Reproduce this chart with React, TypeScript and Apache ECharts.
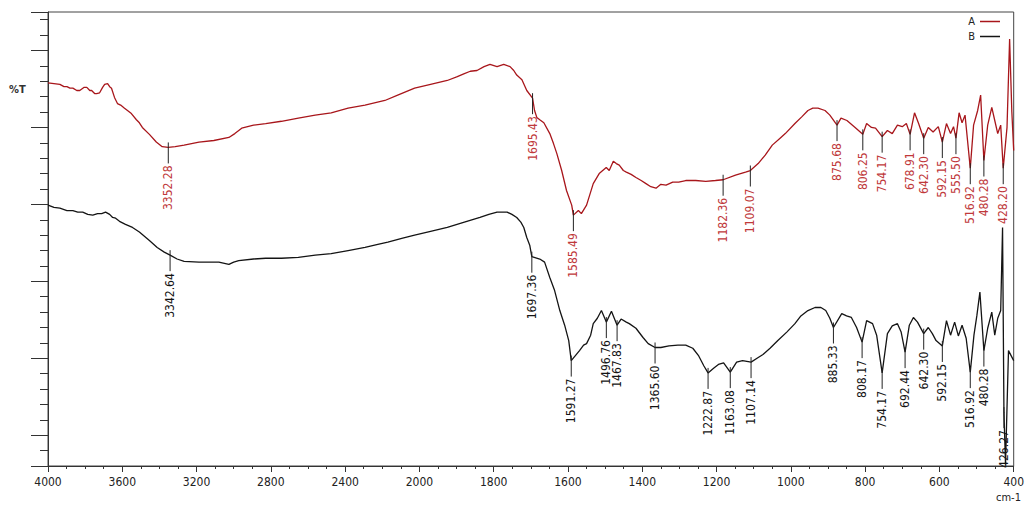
import React, { useEffect, useRef } from "react";
import * as echarts from "echarts";

// x-axis tick labels (cm-1); scale is expanded 2x below 2000 cm-1
const xTickLabels = [4000, 3600, 3200, 2800, 2400, 2000, 1800, 1600, 1400, 1200, 1000, 800, 600, 400];

// Spectrum A (red)
const wnA = [4000, 3968, 3936, 3914, 3898, 3882, 3866, 3845, 3829, 3807, 3791, 3775, 3765, 3749, 3738, 3722, 3706, 3695, 3679, 3668, 3658, 3642, 3626, 3609, 3588, 3572, 3551, 3524, 3508, 3492, 3454, 3417, 3385, 3352.28, 3315, 3267, 3187, 3107, 3026, 2994, 2957, 2893, 2828, 2743, 2652, 2561, 2475, 2384, 2293, 2186, 2117, 2026, 1970, 1925, 1898, 1879, 1863, 1845, 1826, 1810, 1791, 1773, 1756, 1746, 1738, 1724, 1711, 1695.43, 1690, 1684, 1676, 1665, 1649, 1639, 1630, 1617, 1604, 1590, 1585.49, 1572, 1564, 1550, 1532, 1516, 1497, 1489, 1478, 1470, 1462, 1451, 1443, 1430, 1417, 1403, 1390, 1377, 1363, 1350, 1336, 1318, 1302, 1283, 1256, 1229, 1203, 1182.36, 1149, 1122, 1109.07, 1088, 1069, 1050, 1029, 1015, 989, 970, 954, 941, 927, 908, 895, 875.68, 865, 849, 827, 806.25, 796, 783, 772, 754.17, 740, 727, 713, 700, 689, 678.91, 667, 656, 642.3, 630, 617, 603, 592.15, 581, 570, 562, 555.5, 547, 539, 531, 516.92, 508, 497, 489, 480.28, 470, 459, 451, 443, 435, 428.2, 418, 411, 405, 400];
const tA = [45.8, 45.7, 45.6, 45.3, 45.3, 45.1, 45.1, 44.8, 44.8, 45.2, 45.2, 44.8, 44.8, 44.4, 44.4, 44.5, 45.2, 45.6, 45.7, 45.3, 45.1, 43.9, 43.1, 42.9, 42.5, 42.2, 41.8, 41.0, 40.6, 40.0, 39.1, 38.1, 37.5, 37.4, 37.5, 37.7, 38.1, 38.3, 38.7, 39.2, 39.9, 40.3, 40.5, 40.8, 41.2, 41.6, 41.9, 42.5, 42.9, 43.5, 44.2, 45.1, 45.6, 46.1, 46.6, 47.0, 47.3, 47.4, 47.9, 48.2, 47.9, 48.2, 47.9, 47.4, 46.8, 46.2, 44.8, 43.8, 42.2, 41.3, 41.0, 40.6, 39.2, 37.9, 36.6, 34.4, 31.8, 29.9, 28.6, 29.2, 28.8, 29.9, 32.7, 34.0, 34.8, 34.4, 35.6, 35.3, 35.1, 34.4, 34.2, 33.9, 33.5, 33.1, 32.7, 32.3, 32.1, 32.6, 32.5, 32.9, 32.9, 33.1, 33.1, 33.0, 33.1, 33.2, 33.8, 34.2, 34.4, 35.3, 36.4, 37.7, 38.6, 39.2, 40.5, 41.4, 42.2, 42.5, 42.5, 42.2, 41.6, 40.3, 41.2, 40.9, 40.0, 39.1, 40.5, 40.0, 39.9, 38.8, 39.6, 39.2, 40.3, 40.1, 40.5, 39.1, 41.9, 40.5, 38.6, 40.0, 39.4, 40.1, 38.1, 40.5, 39.2, 40.1, 38.6, 41.9, 40.6, 41.6, 34.7, 40.3, 42.2, 44.2, 35.7, 40.3, 42.6, 40.9, 39.2, 40.3, 34.7, 40.0, 51.5, 42.0, 37.0];

// Spectrum B (black)
const wnB = [4000, 3968, 3936, 3898, 3866, 3840, 3813, 3786, 3759, 3733, 3711, 3690, 3668, 3652, 3636, 3615, 3583, 3545, 3508, 3454, 3412, 3374, 3342.64, 3305, 3267, 3187, 3133, 3080, 3026, 3000, 2973, 2893, 2828, 2743, 2652, 2561, 2475, 2384, 2293, 2224, 2170, 2090, 2026, 1970, 1925, 1879, 1837, 1813, 1791, 1778, 1764, 1751, 1738, 1727, 1719, 1711, 1703, 1697.36, 1676, 1663, 1649, 1636, 1622, 1609, 1598, 1591.27, 1569, 1558, 1550, 1539, 1532, 1521, 1510, 1496.76, 1483, 1467.83, 1457, 1443, 1435, 1417, 1398, 1384, 1365.6, 1350, 1328, 1304, 1283, 1264, 1248, 1234, 1222.87, 1208, 1195, 1181, 1163.08, 1146, 1130, 1107.14, 1091, 1075, 1056, 1035, 1011, 989, 973, 954, 935, 919, 906, 895, 885.33, 863, 850, 837, 823, 808.17, 796, 780, 769, 754.17, 740, 727, 713, 703, 692.44, 681, 670, 659, 642.3, 630, 619, 609, 592.15, 581, 570, 559, 549, 539, 528, 516.92, 507, 499, 491, 480.28, 470, 459, 451, 443, 435, 430, 426.27, 422, 414, 400];
const tB = [29.9, 29.6, 29.5, 29.2, 29.2, 29.0, 29.0, 28.7, 28.6, 28.8, 28.8, 29.0, 28.7, 28.3, 28.2, 27.8, 27.4, 27.0, 26.4, 25.3, 24.4, 23.8, 23.4, 22.9, 22.6, 22.5, 22.5, 22.5, 22.2, 22.5, 22.7, 22.9, 23.0, 23.0, 23.1, 23.4, 23.6, 24.0, 24.4, 24.8, 25.1, 25.6, 26.0, 26.5, 27.0, 27.7, 28.3, 28.7, 29.0, 29.0, 29.0, 28.7, 28.3, 27.7, 27.0, 25.7, 24.7, 23.2, 22.9, 22.5, 20.5, 18.8, 16.2, 14.3, 12.3, 9.7, 11.0, 11.7, 11.9, 13.0, 14.5, 15.2, 16.2, 14.7, 16.1, 14.3, 15.1, 14.7, 14.5, 13.9, 12.7, 11.9, 11.4, 11.4, 11.6, 11.7, 11.7, 11.3, 10.3, 9.0, 8.1, 8.7, 9.2, 9.4, 8.2, 9.5, 9.7, 9.5, 10.0, 10.5, 11.3, 12.3, 13.4, 14.5, 15.5, 16.2, 16.6, 16.6, 16.2, 15.2, 14.0, 15.8, 15.5, 15.3, 14.0, 12.1, 14.9, 14.5, 13.0, 8.1, 13.2, 14.2, 14.5, 13.4, 10.8, 14.3, 15.3, 14.7, 13.2, 14.0, 13.2, 12.3, 11.6, 14.9, 13.0, 14.7, 12.9, 14.3, 12.6, 8.2, 13.0, 15.6, 18.6, 11.0, 13.9, 16.0, 13.0, 15.2, 16.2, 27.0, 3.0, -3.8, 11.0, 9.7];

// Labelled peaks (cm-1)
const peaksA = [3352.28, 1695.43, 1585.49, 1182.36, 1109.07, 875.68, 806.25, 754.17, 678.91, 642.3, 592.15, 555.5, 516.92, 480.28, 428.2];
const peaksB = [3342.64, 1697.36, 1591.27, 1496.76, 1467.83, 1365.6, 1222.87, 1163.08, 1107.14, 885.33, 808.17, 754.17, 692.44, 642.3, 592.15, 516.92, 480.28, 426.27];

const FONT = "'Liberation Sans Narrow', 'DejaVu Sans Condensed', 'Liberation Sans', sans-serif";
const RED = "#a8161b";
const RED_TEXT = "#c0393b";
const BLACK = "#141414";

// broken scale: 4000-2000 at 400 per step, 2000-400 at 200 per step
const toU = (wn: number) => (wn >= 2000 ? (4000 - wn) / 400 : 5 + (2000 - wn) / 200);

function peakData(peaks: number[], wn: number[], t: number[]) {
  return peaks.map((p) => {
    const i = wn.indexOf(p);
    return [toU(p), t[i]];
  });
}

function peakSeries(name: string, peaks: number[], wn: number[], t: number[], textColor: string) {
  return {
    type: "custom",
    name,
    data: peakData(peaks, wn, t),
    z: 5,
    silent: true,
    renderItem: (params: any, api: any) => {
      const pt = api.coord([api.value(0), api.value(1)]);
      const label = peaks[params.dataIndex].toFixed(2);
      return {
        type: "group",
        children: [
          {
            type: "line",
            shape: { x1: pt[0], y1: pt[1] - 5, x2: pt[0], y2: pt[1] + 16 },
            style: { stroke: "#222", lineWidth: 1 },
          },
          {
            type: "text",
            x: pt[0],
            y: pt[1] + 18,
            rotation: Math.PI / 2,
            style: {
              text: label,
              fill: textColor,
              font: `12px ${FONT}`,
              align: "right",
              verticalAlign: "middle",
              textAlign: "right",
              textVerticalAlign: "middle",
            },
          },
        ],
      };
    },
  };
}

export default function App() {
  const ref = useRef<HTMLDivElement>(null);
  useEffect(() => {
    if (!ref.current) return;
    const chart = echarts.init(ref.current, null, { renderer: "svg" });
    const axisColor = "#333";
    chart.setOption({
      animation: false,
      backgroundColor: "#ffffff",
      grid: { left: 48, right: 5, top: 12, bottom: 40, show: true, borderColor: "#444", borderWidth: 1 },
      legend: {
        data: ["A", "B"],
        orient: "vertical",
        right: 22,
        top: 11,
        align: "right",
        icon: "rect",
        itemWidth: 20,
        itemHeight: 1.5,
        itemGap: 4,
        textStyle: { fontSize: 11, color: "#222", fontFamily: FONT, lineHeight: 11 },
      },
      xAxis: {
        type: "value",
        min: 0,
        max: 13,
        interval: 1,
        axisLine: { show: true, onZero: false, lineStyle: { color: axisColor } },
        axisTick: { show: true, length: 6, lineStyle: { color: axisColor } },
        minorTick: { show: true, splitNumber: 4, length: 3, lineStyle: { color: axisColor } },
        splitLine: { show: false },
        axisLabel: {
          margin: 10,
          fontSize: 12,
          color: "#222",
          fontFamily: FONT,
          formatter: (v: number) => String(xTickLabels[Math.round(v)] ?? ""),
        },
      },
      yAxis: {
        type: "value",
        min: -4,
        max: 55,
        minInterval: 10,
        maxInterval: 10,
        splitNumber: 6,
        axisLine: { show: true, onZero: false, lineStyle: { color: axisColor } },
        axisTick: { show: true, length: 17, lineStyle: { color: axisColor } },
        minorTick: { show: true, splitNumber: 5, length: 8, lineStyle: { color: axisColor } },
        splitLine: { show: false },
        axisLabel: { show: false },
      },
      graphic: [
        { type: "text", left: 9, top: 84, style: { text: "%T", font: `bold 11px ${FONT}`, fill: "#333" } },
        { type: "text", left: 996, top: 492, style: { text: "cm-1", font: `11px ${FONT}`, fill: "#222" } },
      ],
      series: [
        {
          type: "line",
          name: "A",
          data: wnA.map((w, i) => [toU(w), tA[i]]),
          symbol: "none",
          lineStyle: { color: RED, width: 1.3 },
          itemStyle: { color: RED },
          z: 3,
        },
        {
          type: "line",
          name: "B",
          data: wnB.map((w, i) => [toU(w), tB[i]]),
          symbol: "none",
          lineStyle: { color: BLACK, width: 1.3 },
          itemStyle: { color: BLACK },
          z: 3,
        },
        peakSeries("peaksA", peaksA, wnA, tA, RED_TEXT),
        peakSeries("peaksB", peaksB, wnB, tB, BLACK),
      ],
    });
    return () => chart.dispose();
  }, []);
  return <div ref={ref} style={{ position: "fixed", left: 0, top: 0, width: 1027, height: 506 }} />;
}
